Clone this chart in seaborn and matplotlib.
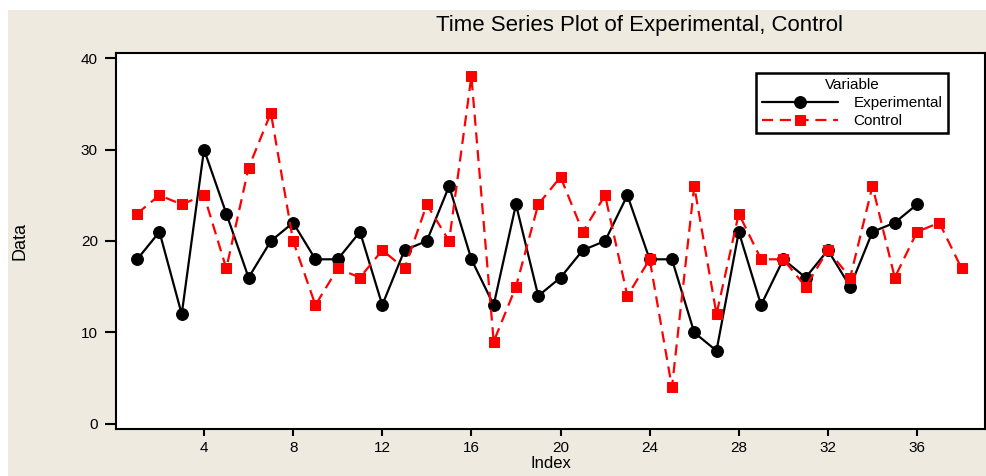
import numpy as np
import pandas as pd
import matplotlib
matplotlib.use('Agg')
import matplotlib.pyplot as plt
import seaborn as sns

# --- data ---
experimental = [18, 21, 12, 30, 23, 16, 20, 22, 18, 18, 21, 13, 19, 20, 26, 18, 13, 24,
                14, 16, 19, 20, 25, 18, 18, 10, 8, 21, 13, 18, 16, 19, 15, 21, 22, 24]
control = [23, 25, 24, 25, 17, 28, 34, 20, 13, 17, 16, 19, 17, 24, 20, 38, 9, 15, 24,
           27, 21, 25, 14, 18, 4, 26, 12, 23, 18, 18, 15, 19, 16, 26, 16, 21, 22, 17]
x_ticks = [4, 8, 12, 16, 20, 24, 28, 32, 36]
y_ticks = [0, 10, 20, 30, 40]

df_exp = pd.DataFrame({'Index': np.arange(1, len(experimental) + 1), 'Data': experimental})
df_ctl = pd.DataFrame({'Index': np.arange(1, len(control) + 1), 'Data': control})

sns.set_style('white')
plt.rcParams['font.family'] = ['Liberation Sans', 'DejaVu Sans']
plt.rcParams['text.color'] = 'black'
plt.rcParams['axes.labelcolor'] = 'black'
plt.rcParams['xtick.color'] = 'black'
plt.rcParams['ytick.color'] = 'black'

beige = '#eeeae0'
fig = plt.figure(figsize=(9.86, 4.76), dpi=100, facecolor='white')
# beige panel (thin white strip on top/left like the original)
fig.patches.append(plt.Rectangle((8 / 986, 0), 1, 1 - 10 / 476, transform=fig.transFigure,
                                 facecolor=beige, edgecolor='none', zorder=-10))
ax = fig.add_axes([116 / 986, 47 / 476, 869 / 986, 376 / 476])
ax.set_facecolor('white')

sns.lineplot(data=df_exp, x='Index', y='Data', ax=ax, color='black', linewidth=1.6,
             marker='o', markersize=8.5, markeredgecolor='black', label='Experimental')
sns.lineplot(data=df_ctl, x='Index', y='Data', ax=ax, color='#ff0000', linewidth=1.6,
             linestyle=(0, (5, 3)), marker='s', markersize=7, markeredgecolor='#ff0000',
             label='Control')

ax.set_xlim(0.05, 39.05)
ax.set_ylim(-0.55, 40.55)
ax.set_xticks(x_ticks)
ax.set_yticks(y_ticks)
ax.tick_params(axis='y', direction='out', length=8, width=1.5, pad=5, labelsize=11, left=True)
ax.tick_params(axis='x', direction='out', length=5, width=1.5, pad=4, labelsize=11, bottom=True)
for s in ax.spines.values():
    s.set_visible(True)
    s.set_color('black')
    s.set_linewidth(1.5)

ax.set_xlabel('Index', fontsize=12)
ax.set_ylabel('Data', fontsize=13)
ax.xaxis.set_label_coords(0.5, -0.072)
ax.yaxis.set_label_coords(-0.101, 0.5)

fig.text(640 / 986, 1 - 25 / 476, 'Time Series Plot of Experimental, Control',
         ha='center', va='center', fontsize=16)

leg = ax.legend(title='Variable', loc='upper right', bbox_to_anchor=(0.957, 0.947),
                fontsize=11, title_fontsize=11, handlelength=5, frameon=True,
                fancybox=False, borderpad=0.35, labelspacing=0.25, handletextpad=1.0,
                borderaxespad=0)
leg.get_frame().set_edgecolor('black')
leg.get_frame().set_linewidth(1.8)
leg.get_frame().set_alpha(1)

fig.savefig('out.png', dpi=100, facecolor=fig.get_facecolor())
